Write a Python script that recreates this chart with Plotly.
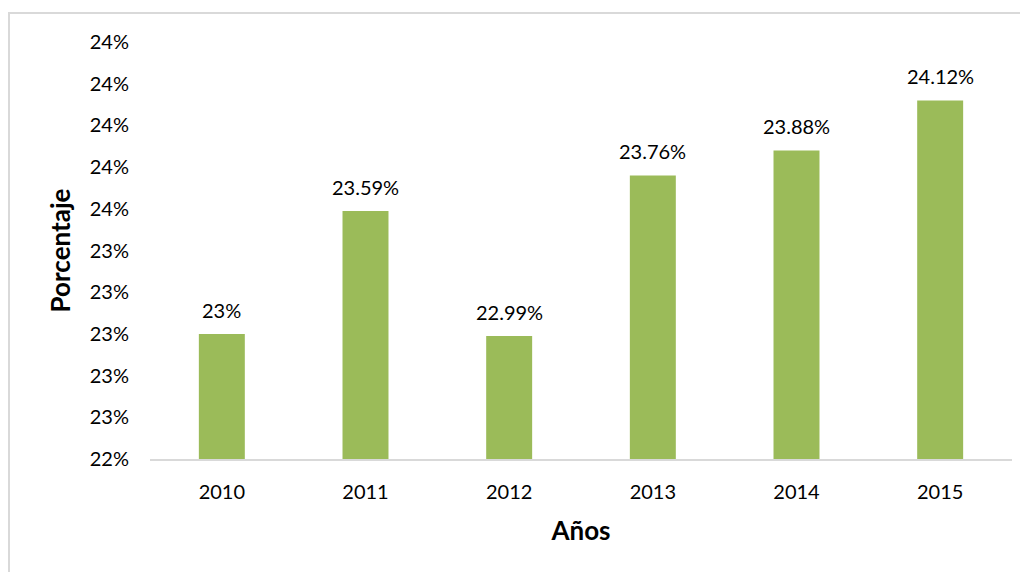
import plotly.graph_objects as go

years = ["2010", "2011", "2012", "2013", "2014", "2015"]
values = [23.00, 23.59, 22.99, 23.76, 23.88, 24.12]  # percent
bar_color = "#9BBB59"
FONT = "Lato, Open Sans, sans-serif"
BASE = 0.224

fracs = [v / 100 for v in values]
labels = [f"{v:.2f}".rstrip("0").rstrip(".") + "%" for v in values]

fig = go.Figure()
fig.add_trace(go.Bar(
    x=years, y=[f - BASE for f in fracs], base=BASE,
    marker=dict(color=bar_color, line=dict(width=0)),
    width=0.32, hoverinfo="skip",
))

for i, (f, lab) in enumerate(zip(fracs, labels)):
    fig.add_annotation(x=i, y=f, text=lab, showarrow=False, yanchor="bottom",
                       yshift=10, font=dict(family=FONT, size=20, color="#000000"))

L, T, PW, PH = 142, 34, 862, 417
fig.update_layout(
    width=1020, height=564,
    margin=dict(l=L, r=16, t=T, b=113),
    paper_bgcolor="white", plot_bgcolor="white",
    showlegend=False,
    font=dict(family=FONT, size=20, color="#000000"),
    xaxis=dict(
        type="category", range=[-0.5, len(years) - 0.5],
        showgrid=False, showline=True, linecolor="#d9d9d9", linewidth=2,
        ticks="", ticklabelstandoff=14,
        title=dict(text="<b>Años</b>", font=dict(family=FONT, size=26), standoff=20),
    ),
    yaxis=dict(
        range=[BASE, 0.244], tick0=BASE, dtick=0.002, tickformat=".0%",
        showgrid=False, showline=False, zeroline=False, ticks="",
        ticklabelstandoff=20,
        title=dict(text="<b>Porcentaje</b>", font=dict(family=FONT, size=26), standoff=11),
    ),
    shapes=[dict(type="rect", xref="paper", yref="paper",
                 x0=(1 - L) / PW, x1=(1040 - L) / PW,
                 y0=(T + PH - 600) / PH, y1=(T + PH - 5) / PH,
                 line=dict(color="#d9d9d9", width=2), layer="below")],
)

fig.write_html("out.html")
